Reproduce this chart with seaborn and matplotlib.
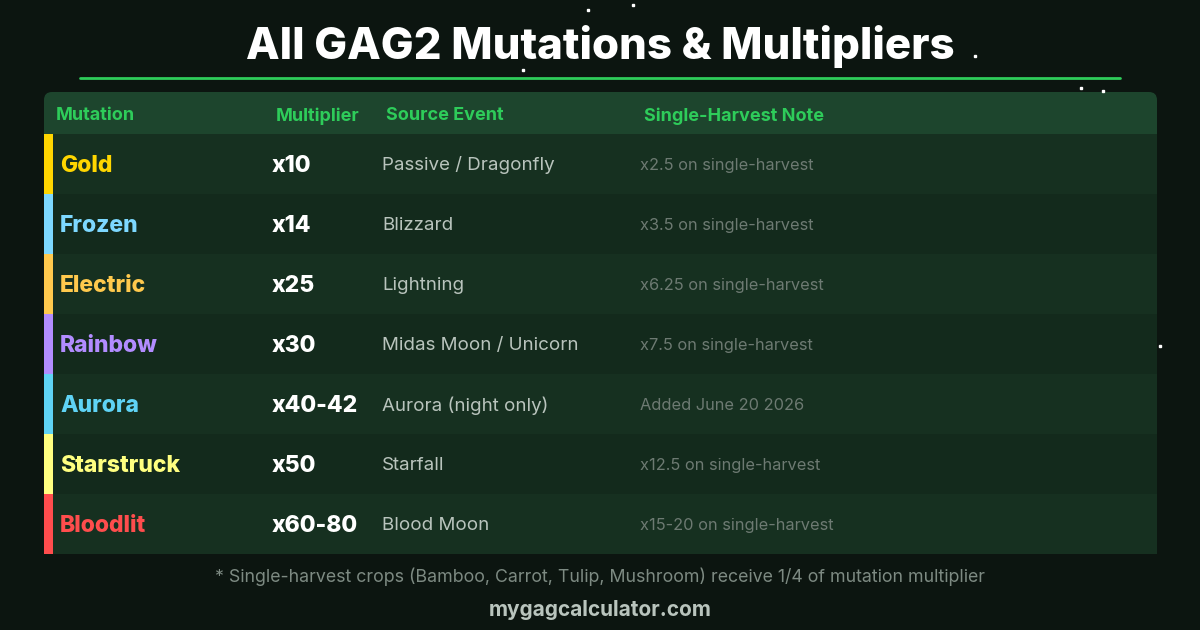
import matplotlib
matplotlib.use("Agg")
import matplotlib.pyplot as plt
import seaborn as sns
from matplotlib.patches import Rectangle, FancyBboxPatch

sns.set_theme(style="white")
plt.rcParams['font.family'] = ['Inter', 'DejaVu Sans']

title = "All GAG2 Mutations & Multipliers"
headers = ["Mutation", "Multiplier", "Source Event", "Single-Harvest Note"]
mutations = ["Gold", "Frozen", "Electric", "Rainbow", "Aurora", "Starstruck", "Bloodlit"]
multipliers = ["x10", "x14", "x25", "x30", "x40-42", "x50", "x60-80"]
sources = ["Passive / Dragonfly", "Blizzard", "Lightning", "Midas Moon / Unicorn",
           "Aurora (night only)", "Starfall", "Blood Moon"]
notes = ["x2.5 on single-harvest", "x3.5 on single-harvest", "x6.25 on single-harvest",
         "x7.5 on single-harvest", "Added June 20 2026", "x12.5 on single-harvest",
         "x15-20 on single-harvest"]
colors = ["#ffd600", "#7dd8ff", "#ffc94d", "#b28cff", "#5fd3f5", "#ffff80", "#ff4d4d"]
footnote = "* Single-harvest crops (Bamboo, Carrot, Tulip, Mushroom) receive 1/4 of mutation multiplier"
site = "mygagcalculator.com"

fig = plt.figure(figsize=(12, 6.3), dpi=100)
fig.patch.set_facecolor("#0c1510")
ax = fig.add_axes([0, 0, 1, 1])
ax.set_xlim(0, 1200); ax.set_ylim(630, 0); ax.axis("off")
ax.set_facecolor("#0c1510")

ax.text(600, 47, title, ha="center", va="center", color="white", fontsize=31.5, fontweight="heavy")
ax.plot([80, 1120], [78, 78], color="#2ecc5a", lw=2)
for sx, sy in [(588, 10), (633, 5), (946, 50), (975, 56), (523, 70), (1081, 88), (1103, 91), (1160, 346)]:
    ax.plot(sx, sy, 's', color="white", ms=1.8)

ax.add_patch(FancyBboxPatch((44, 92), 1113, 42, boxstyle="round,pad=0,rounding_size=8",
                            fc="#1d452d", ec="none"))
ax.add_patch(Rectangle((44, 115), 1113, 19, fc="#1d452d", ec="none"))
hx = [56, 276, 386, 644]
for x, h in zip(hx, headers):
    ax.text(x, 116, h, ha="left", va="center", color="#2ecc5a", fontsize=13, fontweight="bold")

for i in range(len(mutations)):
    y0 = 134 + 60 * i
    yc = y0 + 31.5
    ax.add_patch(Rectangle((44, y0), 1113, 60, fc="#163020" if i % 2 == 0 else "#132a1c", ec="none"))
    ax.add_patch(Rectangle((44, y0), 9, 60, fc=colors[i], ec="none"))
    ax.text(60, yc, mutations[i], ha="left", va="center", color=colors[i], fontsize=16.5, fontweight="heavy")
    ax.text(272, yc, multipliers[i], ha="left", va="center", color="white", fontsize=16.5, fontweight="heavy")
    ax.text(382, yc, sources[i], ha="left", va="center", color="#b9c4bd", fontsize=13.5)
    ax.text(640, yc, notes[i], ha="left", va="center", color="#6d7a72", fontsize=11.8)

ax.text(600, 577, footnote, ha="center", va="center", color="#7d8a82", fontsize=12.8)
ax.text(600, 610, site, ha="center", va="center", color="#b9c4bd", fontsize=15, fontweight="bold")

fig.savefig("out.png", dpi=100, facecolor=fig.get_facecolor())
